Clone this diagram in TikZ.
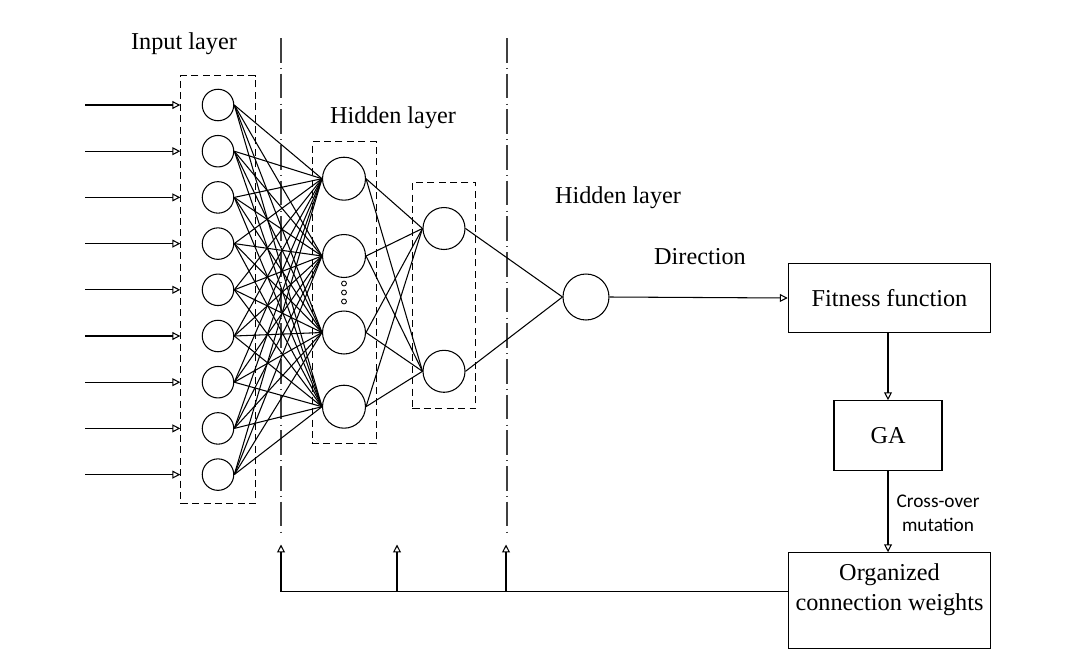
\documentclass[tikz,border=0pt]{standalone}
\usepackage{fontspec}
\setmainfont{Liberation Serif}
\newfontfamily\notefont{Carlito}
\usetikzlibrary{arrows.meta,positioning,fit,calc}

\begin{document}
\begin{tikzpicture}[x=0.02cm,y=-0.02cm,line width=0.6pt,font=\fontsize{13.8}{16}\selectfont]
    % `neuron' is used for the units of the network.
    % `layerbox' is the dashed frame round a layer.
    % `divider' is used for the long vertical dash-dot lines.
    % `block' is used for the boxes on the GA side.
    \tikzstyle{neuron} = [draw,circle,inner sep=0pt,minimum size=0.63cm]
    \tikzstyle{bigneuron} = [neuron,minimum size=0.86cm]
    \tikzstyle{layerbox} = [draw,dash pattern=on 4pt off 2.5pt,line width=0.5pt,inner sep=0pt]
    \tikzstyle{divider} = [draw,gray!50!black,line width=0.7pt,dash pattern=on 14pt off 3pt on 0.3pt off 3pt]
    \tikzstyle{block} = [draw,minimum width=4.05cm,minimum height=1.39cm,align=center,inner sep=2pt]
    \tikzstyle{flow} = [-{Triangle[open,length=4.5pt,width=4.5pt]}]
    \useasboundingbox (0,0) rectangle (1071,649);
    %
    % Neurons.
    \foreach \i in {1,...,9}
      \node[neuron] (in\i) at (218,{105+46.2*(\i-1)}) {};
    \foreach \j/\y in {1/178.7,2/256,3/332.5,4/406.7}
      \node[bigneuron] (h\j) at (344,\y) {};
    \foreach \k/\y in {1/228.5,2/371.3}
      \node[bigneuron,minimum size=0.84cm] (m\k) at (444,\y) {};
    \node[neuron,minimum size=0.92cm] (out) at (586,297) {};
    \foreach \d/\y in {1/283.5,2/292.5,3/301.5}
      \node[draw,circle,inner sep=0pt,minimum size=2.8pt,line width=0.5pt] (dot\d) at (344,\y) {};
    %
    % Dashed frames and dividers.
    \node[layerbox,fit=(in1)(in9),inner xsep=0.42cm,inner ysep=0.26cm] (inbox) {};
    \node[layerbox,fit=(h1)(h4),inner xsep=0.2cm,inner ysep=0.3cm] (hbox) {};
    \node[layerbox,fit=(m1)(m2),inner xsep=0.2cm,inner ysep=0.41cm,yshift=0.09cm] (mbox) {};
    \coordinate (d1top) at (281,38);  \coordinate (d1bot) at (281,537);
    \coordinate (d2top) at (507,38);  \coordinate (d2bot) at (507,537);
    \draw[divider] (d1top) -- (d1bot);
    \draw[divider] (d2top) -- (d2bot);
    %
    % Layer labels.
    \node (inlabel) at (184,44) {Input layer};
    \node (hlabel) at (393,118) {Hidden layer};
    \node (mlabel) at (618,198) {Hidden layer};
    \node (dirlabel) at (700,257) {Direction};
    %
    % Inputs and weights.
    \foreach \i in {1,...,9} {
      \coordinate (src\i) at (85,{105+46.2*(\i-1)});
      \draw[flow] (src\i) -- (src\i -| inbox.west);
      \foreach \j in {1,...,4}
        \draw (in\i.east) -- (h\j.west);
    }
    \foreach \j in {1,...,4}
      \foreach \k in {1,2}
        \draw (h\j.east) -- (m\k.west);
    \foreach \k in {1,2}
      \draw (m\k.east) -- (out.west);
    %
    % GA side.
    \node[block] (fitness) at (889.5,298) {Fitness function};
    \node[block,minimum width=2.16cm,minimum height=1.4cm] (ga) at (888,435.7) {GA};
    \node[block,minimum height=1.91cm] (weights) at (889.5,600.5) {};
    \node[align=center,font=\fontsize{13.8}{17}\selectfont] (wtext) at ($(weights.center)+(0,-11)$) {Organized\\connection weights};
    \draw[flow] (out.east) -- (fitness.west);
    \draw[flow] (fitness.south -| ga) -- (ga.north);
    \draw[flow] (ga.south) -- (weights.north -| ga);
    \node[font=\notefont\fontsize{11}{13.5}\selectfont,align=center] (gaops) at (938,513) {Cross-over\\mutation};
    %
    % Feedback of the weights.
    \coordinate (fb) at ($(weights.west)+(0,-9)$);
    \draw (fb) -- (fb -| d1bot);
    \draw[flow] (fb -| d1bot) -- ++(0,-47);
    \draw[flow] (fb -| 397,0) -- ++(0,-47);
    \draw[flow] (fb -| 506,0) -- ++(0,-47);
\end{tikzpicture}
\end{document}
